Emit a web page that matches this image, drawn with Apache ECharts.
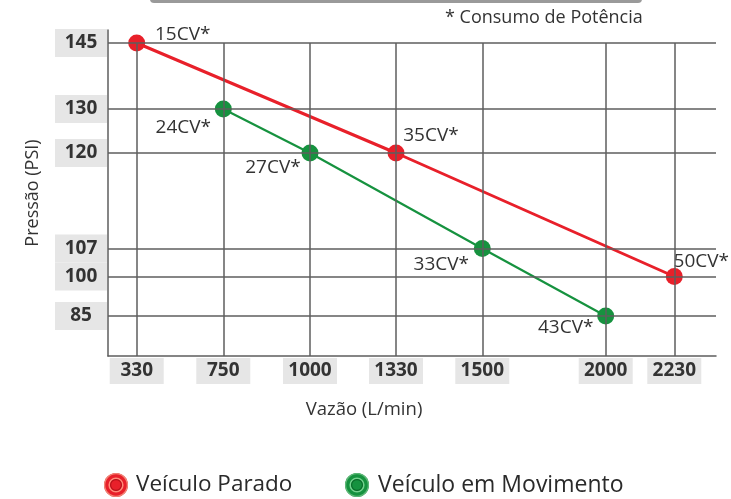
<!DOCTYPE html>
<html>
<head>
<meta charset="utf-8">
<script src="https://cdn.jsdelivr.net/npm/echarts@6/dist/echarts.min.js"></script>
<style>html,body{margin:0;padding:0;background:#fff}#c{width:731px;height:499px}</style>
</head>
<body>
<div id="c"></div>
<script>
// ---- data ----
const xTicks = [330, 750, 1000, 1330, 1500, 2000, 2230];
const yTicks = [145, 130, 120, 107, 100, 85];
const paradoX = [330, 1330, 2230];
const paradoY = [145, 120, 100];
const paradoLabels = ['15CV*', '35CV*', '50CV*'];
const movX = [750, 1000, 1500, 2000];
const movY = [130, 120, 107, 85];
const movLabels = ['24CV*', '27CV*', '33CV*', '43CV*'];
const seriesNames = ['Veículo Parado', 'Veículo em Movimento'];
const noteText = '* Consumo de Potência';
const xName = 'Vazão (L/min)';
const yName = 'Pressão (PSI)';

// ---- layout: schematic (non-linear) scale knots of the original figure ----
const xSlot = [28.7, 115.3, 202, 288, 374.3, 497.7, 566.3];
const xMax = 608;
const ySlot = [313, 247, 203, 107.5, 79.5, 40];
const yMax = 326;
const paradoOffsets = [[46, -8], [35, -17], [27, -15]];
const movOffsets = [[-40, 19], [-37, 15], [-41, 16], [-40, 12]];
const legendLeft = [104, 345];
const legendTop = 473;
const iconSize = 24;

function interp(v, ticks, slots) {
  const idx = ticks.map((t, i) => [t, slots[i]]).sort((a, b) => a[0] - b[0]);
  for (let i = 0; i < idx.length - 1; i++) {
    if (v >= idx[i][0] && v <= idx[i + 1][0]) {
      const f = (v - idx[i][0]) / (idx[i + 1][0] - idx[i][0]);
      return idx[i][1] + f * (idx[i + 1][1] - idx[i][1]);
    }
  }
  return v < idx[0][0] ? idx[0][1] : idx[idx.length - 1][1];
}
const mapX = v => interp(v, xTicks, xSlot);
const mapY = v => interp(v, yTicks, ySlot);
function backX(p) { const i = xTicks.findIndex(t => Math.abs(mapX(t) - p) < 0.01); return i >= 0 ? String(xTicks[i]) : ''; }
function backY(p) { const i = yTicks.findIndex(t => Math.abs(mapY(t) - p) < 0.01); return i >= 0 ? String(yTicks[i]) : ''; }

const FONT = "'Open Sans', 'Noto Sans', sans-serif";
const gridColor = '#5e5e5e';
const red = '#e8202a';
const green = '#16923f';

function mkData(xs, ys, labels, offs) {
  return xs.map((x, i) => ({
    value: [mapX(x), mapY(ys[i])],
    label: { formatter: labels[i], offset: offs[i] }
  }));
}

const vLines = xTicks.map(t => [{ coord: [mapX(t), 0] }, { coord: [mapX(t), mapY(yTicks[0])] }]);
const hLines = yTicks.map(t => [{ coord: [0, mapY(t)] }, { coord: [xMax, mapY(t)] }]);

// decorative rings drawn over the legend icons
function ringDeco(i, edge, light, dark) {
  const cx = legendLeft[i] + iconSize / 2, cy = legendTop + iconSize / 2;
  return [
    { type: 'circle', z: 100, silent: true, shape: { cx, cy, r: 11.4 }, style: { fill: 'none', stroke: edge, lineWidth: 1.3 } },
    { type: 'circle', z: 100, silent: true, shape: { cx, cy, r: 6.8 }, style: { fill: 'none', stroke: light, lineWidth: 1.6 } },
    { type: 'circle', z: 100, silent: true, shape: { cx, cy, r: 5.4 }, style: { fill: 'none', stroke: dark, lineWidth: 1.1 } }
  ];
}

const chart = echarts.init(document.getElementById('c'), null, { renderer: 'canvas' });
chart.setOption({
  animation: false,
  backgroundColor: '#ffffff',
  grid: { left: 108, right: 15, top: 30, bottom: 143, containLabel: false },
  xAxis: {
    type: 'value', min: 0, max: xMax,
    axisLine: { show: true, lineStyle: { color: gridColor, width: 1.5 } },
    axisTick: { show: false },
    splitLine: { show: false },
    axisLabel: {
      customValues: xTicks.map(mapX),
      formatter: v => backX(v),
      margin: 2, width: 54, height: 26, lineHeight: 26,
      align: 'center', verticalAlign: 'top',
      backgroundColor: '#e6e6e6',
      color: '#333', fontFamily: FONT, fontWeight: 'bold', fontSize: 19
    }
  },
  yAxis: {
    type: 'value', min: 0, max: yMax,
    axisLine: { show: true, lineStyle: { color: gridColor, width: 1.5 } },
    axisTick: { show: false },
    splitLine: { show: false },
    axisLabel: {
      customValues: yTicks.map(mapY),
      formatter: v => backY(v),
      margin: 27, width: 52, height: 28, lineHeight: 28,
      align: 'center', verticalAlign: 'middle',
      backgroundColor: '#e6e6e6',
      color: '#333', fontFamily: FONT, fontWeight: 'bold', fontSize: 19
    }
  },
  legend: [
    {
      left: legendLeft[0], top: legendTop, padding: 0, itemWidth: iconSize, itemHeight: iconSize,
      textStyle: { fontFamily: FONT, fontSize: 22.5, color: '#2a2a2a', padding: [0, 0, 0, 3] },
      data: [{ name: seriesNames[0], icon: 'circle' }]
    },
    {
      left: legendLeft[1], top: legendTop, padding: 0, itemWidth: iconSize, itemHeight: iconSize,
      textStyle: { fontFamily: FONT, fontSize: 23, color: '#2a2a2a', padding: [0, 0, 0, 4] },
      data: [{ name: seriesNames[1], icon: 'circle' }]
    }
  ],
  series: [
    {
      name: 'grid', type: 'line', data: [], z: 1, silent: true,
      markLine: {
        silent: true, symbol: ['none', 'none'], label: { show: false },
        lineStyle: { color: gridColor, width: 1.5, type: 'solid' },
        data: vLines.concat(hLines)
      }
    },
    {
      name: seriesNames[0], type: 'line', z: 3,
      data: mkData(paradoX, paradoY, paradoLabels, paradoOffsets),
      symbol: 'circle', symbolSize: 17,
      lineStyle: { color: red, width: 3 },
      itemStyle: { color: red, borderWidth: 0 },
      label: { show: true, position: 'inside', color: '#333', fontFamily: FONT, fontSize: 19 }
    },
    {
      name: seriesNames[1], type: 'line', z: 3,
      data: mkData(movX, movY, movLabels, movOffsets),
      symbol: 'circle', symbolSize: 17,
      lineStyle: { color: green, width: 2.2 },
      itemStyle: { color: green, borderWidth: 0 },
      label: { show: true, position: 'inside', color: '#333', fontFamily: FONT, fontSize: 19 }
    }
  ],
  graphic: [
    { type: 'rect', shape: { x: 150, y: -6, width: 492, height: 9, r: 4 }, style: { fill: '#9a9a9a' }, silent: true },
    { type: 'text', x: 445, y: 18, style: { text: noteText, font: '18px ' + FONT, fill: '#333', align: 'left', verticalAlign: 'middle' } },
    { type: 'text', x: 364, y: 410, style: { text: xName, font: '18.5px ' + FONT, fill: '#333', align: 'center', verticalAlign: 'middle' } },
    { type: 'text', x: 33, y: 193, rotation: Math.PI / 2, style: { text: yName, font: '18px ' + FONT, fill: '#333', align: 'center', verticalAlign: 'middle' } }
  ].concat(ringDeco(0, '#f08676', '#ff8a78', '#b5121a'), ringDeco(1, '#5fb878', '#74d18e', '#0b6a2a'))
});
</script>
</body>
</html>
